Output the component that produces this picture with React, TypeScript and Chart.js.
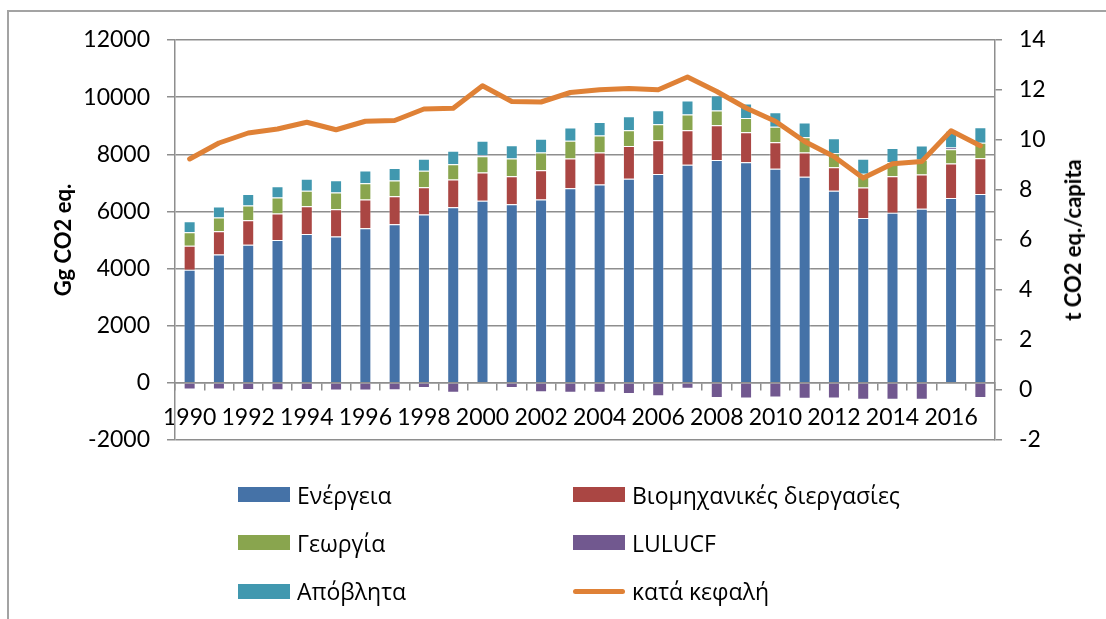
import React, { useEffect, useRef } from "react";
import { Chart, registerables } from "chart.js";

Chart.register(...registerables);

const years = [
  "1990", "1991", "1992", "1993", "1994", "1995", "1996", "1997", "1998", "1999",
  "2000", "2001", "2002", "2003", "2004", "2005", "2006", "2007", "2008", "2009",
  "2010", "2011", "2012", "2013", "2014", "2015", "2016", "2017",
];

const energy = [3960, 4490, 4830, 5000, 5210, 5120, 5410, 5550, 5890, 6150, 6370, 6250, 6420, 6810, 6940, 7140, 7310, 7630, 7800, 7720, 7490, 7210, 6720, 5770, 5950, 6090, 6470, 6610];
const industry = [840, 820, 860, 930, 970, 960, 1010, 980, 960, 970, 990, 980, 1020, 1040, 1120, 1150, 1180, 1210, 1220, 1050, 930, 850, 830, 1070, 1280, 1200, 1210, 1250];
const agriculture = [470, 480, 520, 560, 540, 580, 570, 550, 570, 530, 570, 620, 620, 620, 600, 550, 560, 550, 510, 500, 540, 540, 490, 480, 500, 520, 500, 540];
const lulucf = [-230, -230, -250, -260, -250, -270, -270, -260, -180, -350, 40, -180, -330, -350, -350, -390, -470, -210, -530, -550, -510, -560, -550, -590, -590, -590, 60, -530];
const waste = [390, 380, 400, 390, 420, 430, 440, 440, 420, 470, 500, 470, 480, 470, 470, 490, 490, 490, 530, 510, 510, 510, 520, 520, 490, 500, 580, 550];
const perCapita = [9.24, 9.88, 10.28, 10.44, 10.71, 10.41, 10.75, 10.78, 11.24, 11.27, 12.17, 11.54, 11.52, 11.9, 12.01, 12.06, 12.01, 12.52, 11.94, 11.28, 10.75, 9.94, 9.34, 8.48, 9.05, 9.14, 10.37, 9.77];

const leftTitle = "Gg CO2 eq.";
const rightTitle = "t CO2 eq./capita";

const COLORS = {
  energy: "#4572A7",
  industry: "#AA4643",
  agriculture: "#89A54E",
  lulucf: "#71588F",
  waste: "#4198AF",
  line: "#DF8136",
};

const legendItems = [
  { label: "Ενέργεια", color: COLORS.energy, kind: "box", col: 0, row: 0 },
  { label: "Βιομηχανικές διεργασίες", color: COLORS.industry, kind: "box", col: 1, row: 0 },
  { label: "Γεωργία", color: COLORS.agriculture, kind: "box", col: 0, row: 1 },
  { label: "LULUCF", color: COLORS.lulucf, kind: "box", col: 1, row: 1 },
  { label: "Απόβλητα", color: COLORS.waste, kind: "box", col: 0, row: 2 },
  { label: "κατά κεφαλή", color: COLORS.line, kind: "line", col: 1, row: 2 },
];

export default function App() {
  const ref = useRef<HTMLCanvasElement>(null);

  useEffect(() => {
    const gridColor = "#8e8e8e";
    const tickFont = { family: "Lato", size: 23 };
    const bar = (label: string, data: number[], color: string) => ({
      type: "bar" as const,
      label,
      data,
      backgroundColor: color,
      borderColor: "rgba(255,255,255,0.35)",
      borderWidth: 1,
      barPercentage: 0.41,
      categoryPercentage: 1,
      stack: "emissions",
      yAxisID: "y",
      order: 1,
    });
    const chart = new Chart(ref.current as HTMLCanvasElement, {
      type: "bar",
      data: {
        labels: years,
        datasets: [
          bar("Ενέργεια", energy, COLORS.energy),
          bar("Βιομηχανικές διεργασίες", industry, COLORS.industry),
          bar("Γεωργία", agriculture, COLORS.agriculture),
          bar("LULUCF", lulucf, COLORS.lulucf),
          bar("Απόβλητα", waste, COLORS.waste),
          {
            type: "line" as const,
            label: "κατά κεφαλή",
            data: perCapita,
            yAxisID: "y1",
            borderColor: COLORS.line,
            backgroundColor: COLORS.line,
            borderWidth: 5,
            pointRadius: 0,
            tension: 0,
            borderCapStyle: "round",
            borderJoinStyle: "round",
            stack: "line",
            order: 0,
          } as any,
        ],
      },
      options: {
        responsive: false,
        animation: false,
        devicePixelRatio: 1,
        layout: { padding: { left: 0, right: 0, top: 40, bottom: 179 } },
        plugins: {
          legend: { display: false },
          tooltip: { enabled: false },
        },
        scales: {
          x: {
            type: "category",
            position: { y: 0 } as any,
            stacked: true,
            offset: true,
            grid: {
              offset: true,
              drawOnChartArea: false,
              drawTicks: true,
              tickLength: 7,
              color: gridColor,
              lineWidth: 1.5,
            },
            border: { display: true, color: gridColor, width: 1.5 },
            ticks: {
              autoSkip: false,
              maxRotation: 0,
              minRotation: 0,
              padding: 14,
              color: "#000",
              font: tickFont,
              callback: (_v: any, i: number) => (i % 2 === 0 ? years[i] : ""),
            },
          },
          y: {
            type: "linear",
            position: "left",
            stacked: true,
            min: -2000,
            max: 12000,
            ticks: {
              stepSize: 2000,
              padding: 17,
              color: "#000",
              font: tickFont,
              callback: (v: any) => String(v),
            },
            grid: { color: gridColor, lineWidth: 1.5, drawTicks: true, tickLength: 8 },
            border: { display: true, color: gridColor, width: 1.5 },
            title: {
              display: true,
              text: leftTitle,
              color: "#000",
              font: { family: "Lato", size: 22, weight: "bold" },
              padding: { top: 51, bottom: 0 },
            },
            afterFit: (s: any) => {
              s.width = 175;
            },
          },
          y1: {
            type: "linear",
            position: "right",
            min: -2,
            max: 14,
            ticks: {
              stepSize: 2,
              padding: 17,
              color: "#000",
              font: tickFont,
              callback: (v: any) => String(v),
            },
            grid: { drawOnChartArea: false, drawTicks: true, tickLength: 7, color: gridColor, lineWidth: 1.5 },
            border: { display: true, color: gridColor, width: 1.5 },
            afterFit: (s: any) => {
              s.width = 111;
            },
          },
        },
      } as any,
    });
    return () => chart.destroy();
  }, []);

  const colX = [238, 573];
  const rowY = [494.5, 542.5, 591];

  return (
    <div
      style={{
        position: "fixed",
        left: 0,
        top: 0,
        width: 1106,
        height: 619,
        overflow: "hidden",
        background: "#fff",
      }}
    >
      <div
        style={{
          position: "absolute",
          left: 7,
          top: 10,
          width: 1300,
          height: 800,
          border: "2px solid #a3a3a3",
        }}
      />
      <canvas
        ref={ref}
        width={1106}
        height={619}
        style={{ position: "absolute", left: 0, top: 0, width: 1106, height: 619 }}
      />
      <div
        style={{
          position: "absolute",
          left: 1073,
          top: 240,
          transform: "translate(-50%, -50%) rotate(-90deg)",
          whiteSpace: "nowrap",
          fontFamily: "Lato",
          fontWeight: "bold",
          fontSize: 22,
          color: "#000",
          lineHeight: 1,
        }}
      >
        {rightTitle}
      </div>
      {legendItems.map((it) => {
        const x = colX[it.col];
        const y = rowY[it.row];
        return (
          <React.Fragment key={it.label}>
            {it.kind === "box" ? (
              <div
                style={{
                  position: "absolute",
                  left: x,
                  top: y - 7.5,
                  width: 52,
                  height: 15,
                  background: it.color,
                }}
              />
            ) : (
              <div
                style={{
                  position: "absolute",
                  left: x,
                  top: y - 2.5,
                  width: 52,
                  height: 5,
                  borderRadius: 3,
                  background: it.color,
                }}
              />
            )}
            <span
              style={{
                position: "absolute",
                left: x + 59,
                top: y,
                transform: "translateY(-50%)",
                fontFamily: "'Open Sans', 'Noto Sans', sans-serif",
                fontSize: 23,
                lineHeight: 1,
                color: "#000",
                whiteSpace: "nowrap",
              }}
            >
              {it.label}
            </span>
          </React.Fragment>
        );
      })}
    </div>
  );
}
